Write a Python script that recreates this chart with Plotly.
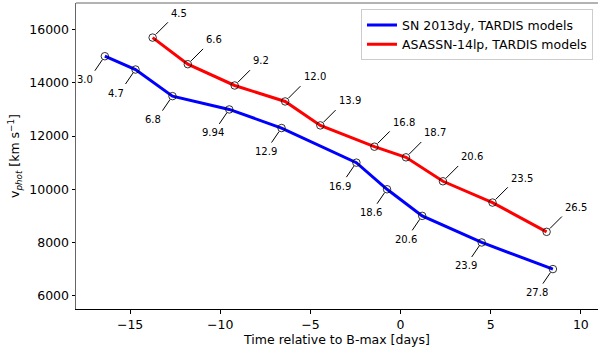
import plotly.graph_objects as go

# Photospheric velocity of TARDIS models vs. epoch relative to B-band maximum
t_13dy = [-16.4, -14.7, -12.65, -9.5, -6.6, -2.45, -0.75, 1.2, 4.5, 8.45]
v_13dy = [15000, 14500, 13500, 13000, 12300, 11000, 10000, 9000, 8000, 7000]
lab_13dy = ["3.0", "4.7", "6.8", "9.94", "12.9", "16.9", "18.6", "20.6", "23.9", "27.8"]

t_14lp = [-13.75, -11.8, -9.2, -6.4, -4.45, -1.45, 0.3, 2.35, 5.1, 8.1]
v_14lp = [15700, 14700, 13900, 13300, 12400, 11600, 11200, 10300, 9500, 8400]
lab_14lp = ["4.5", "6.6", "9.2", "12.0", "13.9", "16.8", "18.7", "20.6", "23.5", "26.5"]

x_ticks = [-15, -10, -5, 0, 5, 10]
y_ticks = [6000, 8000, 10000, 12000, 14000, 16000]

FONT = "DejaVu Sans"

fig = go.Figure()

fig.add_trace(go.Scatter(x=t_13dy, y=v_13dy, mode="lines",
                         line=dict(color="#0000ff", width=3),
                         name="SN 2013dy, TARDIS models"))
fig.add_trace(go.Scatter(x=t_14lp, y=v_14lp, mode="lines",
                         line=dict(color="#ff0000", width=3),
                         name="ASASSN-14lp, TARDIS models"))
# open circles on each model epoch
for tx, vy in ((t_13dy, v_13dy), (t_14lp, v_14lp)):
    fig.add_trace(go.Scatter(x=tx, y=vy, mode="markers", showlegend=False,
                             marker=dict(size=7.5, color="rgba(0,0,0,0)",
                                         line=dict(color="black", width=0.8))))

shapes = []
annotations = []
# ASASSN-14lp labels: up and to the right
for tx, vy, lab in zip(t_14lp, v_14lp, lab_14lp):
    shapes.append(dict(type="line", xref="x", yref="y",
                       xsizemode="pixel", ysizemode="pixel",
                       xanchor=tx, yanchor=vy,
                       x0=3.3, y0=3.3, x1=15.3, y1=15.3,
                       line=dict(color="black", width=1)))
    annotations.append(dict(x=tx, y=vy, xref="x", yref="y", text=lab,
                            showarrow=False, xanchor="left", yanchor="middle",
                            xshift=16.5, yshift=24.5,
                            font=dict(family=FONT, size=10, color="black")))
# SN 2013dy labels: down and to the left
for tx, vy, lab in zip(t_13dy, v_13dy, lab_13dy):
    shapes.append(dict(type="line", xref="x", yref="y",
                       xsizemode="pixel", ysizemode="pixel",
                       xanchor=tx, yanchor=vy,
                       x0=-2.5, y0=-3.5, x1=-10, y1=-14.5,
                       line=dict(color="black", width=1)))
    annotations.append(dict(x=tx, y=vy, xref="x", yref="y", text=lab,
                            showarrow=False, xanchor="center", yanchor="middle",
                            xshift=-19.5 if len(lab) == 3 else -16, yshift=-23.5,
                            font=dict(family=FONT, size=10, color="black")))

# top frame line
shapes.append(dict(type="line", xref="paper", yref="paper",
                   x0=0, x1=1, y0=1, y1=1,
                   line=dict(color="#666666", width=1)))

fig.update_layout(
    width=598, height=355,
    margin=dict(l=76, r=0, t=3, b=46),
    paper_bgcolor="white", plot_bgcolor="white",
    font=dict(family=FONT, size=12.5, color="black"),
    shapes=shapes, annotations=annotations,
    legend=dict(x=0.9904, y=0.979, xanchor="right", yanchor="top",
                bgcolor="white", bordercolor="#cccccc", borderwidth=1,
                font=dict(family=FONT, size=12.5, color="black"),
                tracegroupgap=0),
    xaxis=dict(range=[-18, 10.95], tickvals=x_ticks,
               showgrid=False, zeroline=False,
               showline=True, linecolor="black", linewidth=1,
               ticks="outside", ticklen=3.5, tickwidth=0.8, tickcolor="black",
               title=dict(text="Time relative to B-max [days]", standoff=4,
                          font=dict(family=FONT, size=12.5))),
    yaxis=dict(range=[5500, 17000], tickvals=y_ticks, tickformat="d",
               showgrid=False, zeroline=False,
               showline=True, linecolor="#666666", linewidth=1,
               ticks="outside", ticklen=3.5, tickwidth=0.8, tickcolor="black",
               title=dict(text="v<sub><i>phot</i></sub> [km s<sup>−1</sup>]",
                          standoff=6, font=dict(family=FONT, size=12.5))),
)

fig.write_html("out.html")
